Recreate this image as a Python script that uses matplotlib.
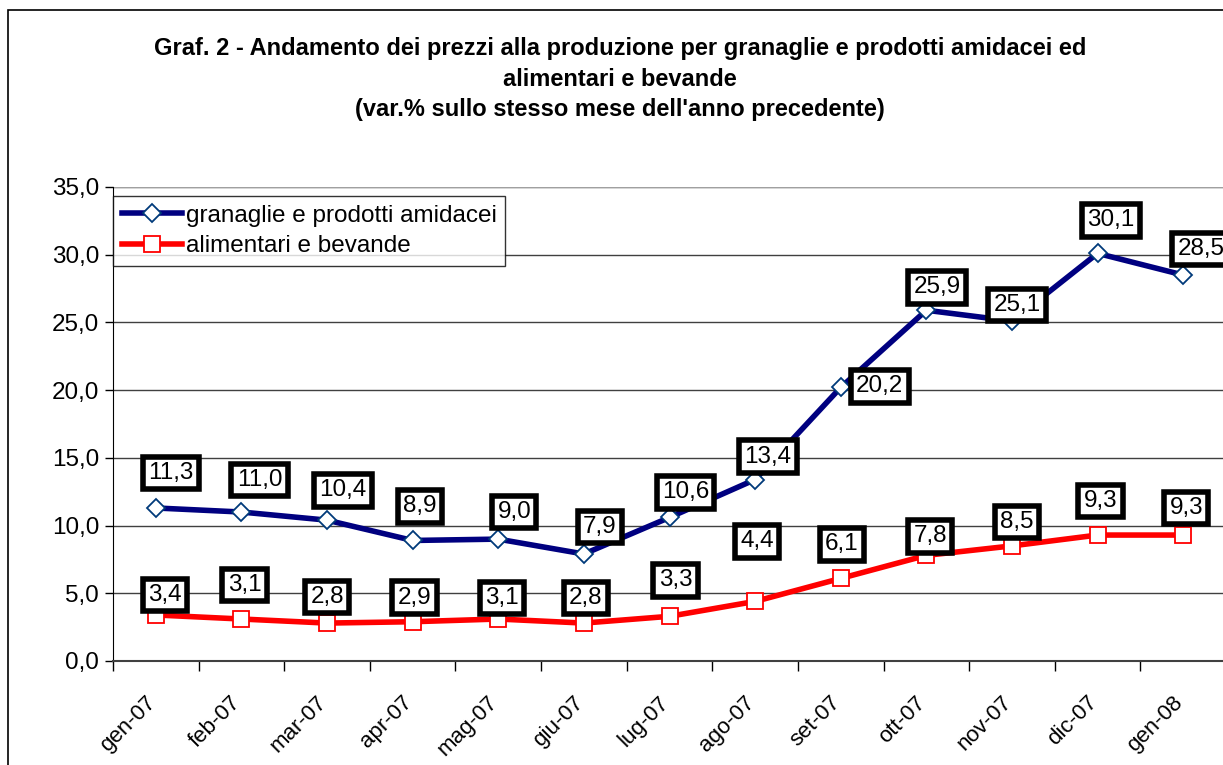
import numpy as np
import matplotlib as mpl
mpl.use("Agg")
import matplotlib.pyplot as plt
import matplotlib.transforms as mtransforms
from matplotlib.patches import Rectangle

plt.rcParams['font.family'] = ['Liberation Sans', 'DejaVu Sans']

mesi = ['gen-07', 'feb-07', 'mar-07', 'apr-07', 'mag-07', 'giu-07', 'lug-07',
        'ago-07', 'set-07', 'ott-07', 'nov-07', 'dic-07', 'gen-08']
granaglie = [11.3, 11.0, 10.4, 8.9, 9.0, 7.9, 10.6, 13.4, 20.2, 25.9, 25.1, 30.1, 28.5]
alimentari = [3.4, 3.1, 2.8, 2.9, 3.1, 2.8, 3.3, 4.4, 6.1, 7.8, 8.5, 9.3, 9.3]

# label offsets in pixels (dx, dy up) relative to the point
off_gran = [(15, 35), (18, 32), (16, 30), (7, 34), (16, 27), (16, 27), (16, 25),
            (13, 23), (39, 1), (11, 23), (5, 16), (13, 33), (18, 26)]
off_alim = [(9, 20), (3, 34), (0, 26), (2, 24), (4, 21), (2, 25), (6, 36),
            (2, 60), (1, 34), (4, 19), (5, 24), (3, 34), (3, 27)]

FS = 17.5

fig = plt.figure(figsize=(12.23, 7.65), dpi=100)
ax = fig.add_axes([113 / 1223, 1 - 661 / 765, (1226 - 113) / 1223, (661 - 187) / 765])

x = np.arange(len(mesi))
ax.plot(x, granaglie, color='#000080', lw=4, marker='D', ms=9,
        mfc='white', mec='#003a7a', mew=1.3, label='granaglie e prodotti amidacei', zorder=3)
ax.plot(x, alimentari, color='#ff0000', lw=4, marker='s', ms=12,
        mfc='white', mec='#ff0000', mew=1.3, label='alimentari e bevande', zorder=3)

box = dict(boxstyle='square,pad=0.22', fc='white', ec='black', lw=4)
for xs, ys, offs in [(x, granaglie, off_gran), (x, alimentari, off_alim)]:
    for xi, yi, (dx, dy) in zip(xs, ys, offs):
        ax.annotate(f'{yi:.1f}'.replace('.', ','), (xi, yi), xytext=(dx * 0.72, dy * 0.72),
                    textcoords='offset points', ha='center', va='center',
                    fontsize=FS, bbox=box, zorder=5)

ax.set_xlim(-0.5, 12.5)
ax.set_ylim(0, 35)
ax.set_yticks(np.arange(0, 36, 5))
ax.set_yticklabels([f'{v:.1f}'.replace('.', ',') for v in np.arange(0, 36, 5)], fontsize=FS)
ax.yaxis.grid(True, color='#404040', lw=1)
ax.set_axisbelow(True)
ax.tick_params(axis='y', length=6, width=1, pad=4)

ax.set_xticks(x)
ax.set_xticklabels(mesi, rotation=45, ha='right', va='top', rotation_mode='anchor', fontsize=16)
ax.tick_params(axis='x', which='major', length=0, pad=0)
shift = mtransforms.ScaledTranslation(-11 / 100, -31 / 100, fig.dpi_scale_trans)
for lab in ax.get_xticklabels():
    lab.set_transform(lab.get_transform() + shift)
ax.set_xticks(np.arange(-0.5, 13, 1), minor=True)
ax.tick_params(axis='x', which='minor', length=7, width=1)

for s in ['top', 'right']:
    ax.spines[s].set_visible(False)
ax.spines['left'].set_color('black')
ax.spines['bottom'].set_color('#404040')
ax.spines['bottom'].set_linewidth(1.5)
ax.axhline(35, color='#a0a0a0', lw=1.5, zorder=1)

leg = ax.legend(loc='upper left', bbox_to_anchor=(0.0, 0.981), fontsize=FS, frameon=True,
                fancybox=False, edgecolor='black', borderaxespad=0, handlelength=2.5,
                handletextpad=0.15, borderpad=0.35, labelspacing=0.35)
leg.get_frame().set_linewidth(1)

fig.text(0.507, 0.951,
         "Graf. 2 - Andamento dei prezzi alla produzione per granaglie e prodotti amidacei ed\n"
         "alimentari e bevande\n(var.% sullo stesso mese dell'anno precedente)",
         ha='center', va='top', fontsize=17, fontweight='bold', linespacing=1.4)

fig.patches.append(Rectangle((8 / 1223, -0.1), 1.2, 1 - 10 / 765 + 0.1,
                             transform=fig.transFigure, fill=False, ec='black', lw=1.2))

fig.savefig('out.png', dpi=100)
